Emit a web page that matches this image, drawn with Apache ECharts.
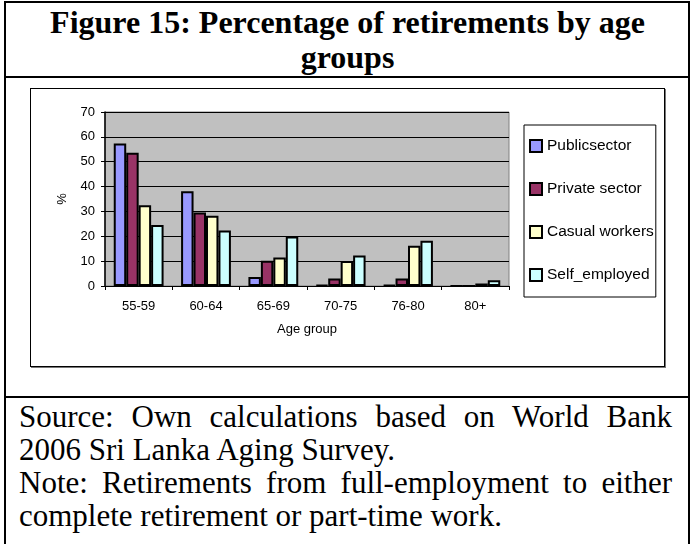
<!DOCTYPE html>
<html>
<head>
<meta charset="utf-8">
<script src="https://cdn.jsdelivr.net/npm/echarts@6.0.0/dist/echarts.min.js"></script>
<style>
  html, body { margin: 0; padding: 0; background: #fff; }
  body { width: 691px; height: 544px; position: relative; overflow: hidden; }
  .rule { position: absolute; background: #000; }
  .title {
    position: absolute; left: 5px; top: 5px; width: 685px;
    font: bold 32px/35px "Liberation Serif", "Times New Roman", serif;
    text-align: center; color: #000;
  }
  .box {
    position: absolute; left: 30px; top: 88px; width: 633px; height: 277px;
    border: 1px solid #000; box-shadow: 1px 1px 0 #777;
  }
  .note {
    position: absolute; left: 19px; top: 400px; width: 653px;
    font: 31px/33px "Liberation Serif", "Times New Roman", serif; color: #000;
  }
  .note p { margin: 0; text-align: justify; }
  #chart { position: absolute; left: 0; top: 0; width: 691px; height: 544px; }
</style>
</head>
<body>
<div class="rule" style="left:4px;top:1px;width:686px;height:2px"></div>
<div class="rule" style="left:4px;top:1px;width:2px;height:543px"></div>
<div class="rule" style="left:688px;top:1px;width:2px;height:543px"></div>
<div class="rule" style="left:4px;top:76px;width:686px;height:2px"></div>
<div class="rule" style="left:4px;top:396px;width:686px;height:2px"></div>

<div class="title">Figure 15: Percentage of retirements by age groups</div>
<div class="box"></div>
<div class="note">
  <p>Source: Own calculations based on World Bank 2006 Sri Lanka Aging Survey.</p>
  <p>Note: Retirements from full-employment to either complete retirement or part-time work.</p>
</div>

<div id="chart"></div>

<script>
// values (%)
const ageGroups = ['55-59', '60-64', '65-69', '70-75', '76-80', '80+']
const publicSector = [57.3, 38.1, 3.6, 0.4, 0.4, 0]
const privateSector = [53.6, 29.6, 10.2, 3.0, 3.0, 0]
const casualWorkers = [32.5, 28.3, 11.5, 10.1, 16.2, 1.0]
const selfEmployed = [24.5, 22.3, 19.9, 12.3, 18.2, 2.3]
const yTicks = [0, 10, 20, 30, 40, 50, 60, 70]

const seriesDefs = [
  { name: 'Publicsector', data: publicSector, color: '#9999ff' },
  { name: 'Private sector', data: privateSector, color: '#993366' },
  { name: 'Casual workers', data: casualWorkers, color: '#ffffcc' },
  { name: 'Self_employed', data: selfEmployed, color: '#ccffff' },
]

const axisText = { color: '#000', fontFamily: 'Liberation Sans, Arial, sans-serif', fontSize: 13 }

const chart = echarts.init(document.getElementById('chart'), null, { renderer: 'canvas' })
chart.setOption({
  backgroundColor: 'transparent',
  animation: false,
  grid: {
    left: 105, top: 112, width: 404, height: 174,
    show: true, backgroundColor: '#c0c0c0', borderColor: '#808080', borderWidth: 1,
  },
  legend: {
    orient: 'vertical',
    left: 524, top: 125,
    padding: [13, 2, 14, 5],
    itemGap: 27,
    itemWidth: 12, itemHeight: 12,
    borderColor: '#000', borderWidth: 1,
    backgroundColor: '#fff',
    textStyle: { color: '#000', fontFamily: 'Liberation Sans, Arial, sans-serif', fontSize: 15.5 },
    data: seriesDefs.map(s => ({ name: s.name, icon: 'rect' })),
  },
  xAxis: {
    type: 'category',
    data: ageGroups,
    name: 'Age group',
    nameLocation: 'middle',
    nameGap: 37,
    nameTextStyle: axisText,
    axisLine: { lineStyle: { color: '#000', width: 1 } },
    axisTick: { show: true, length: 4, lineStyle: { color: '#000' } },
    axisLabel: { ...axisText, margin: 14 },
  },
  yAxis: {
    type: 'value',
    min: yTicks[0], max: yTicks[yTicks.length - 1], interval: 10,
    name: '%',
    nameLocation: 'middle',
    nameRotate: 90,
    nameGap: 36,
    nameTextStyle: axisText,
    axisLine: { show: true, lineStyle: { color: '#000', width: 1.5 } },
    axisTick: { show: true, length: 4, lineStyle: { color: '#000' } },
    axisLabel: { ...axisText, margin: 10 },
    splitLine: { show: true, lineStyle: { color: '#000', width: 1 } },
  },
  series: seriesDefs.map(s => ({
    name: s.name,
    type: 'bar',
    data: s.data,
    barGap: '0%',
    barCategoryGap: '26%',
    itemStyle: { color: s.color, borderColor: '#000', borderWidth: 2 },
  })),
})
</script>
</body>
</html>
